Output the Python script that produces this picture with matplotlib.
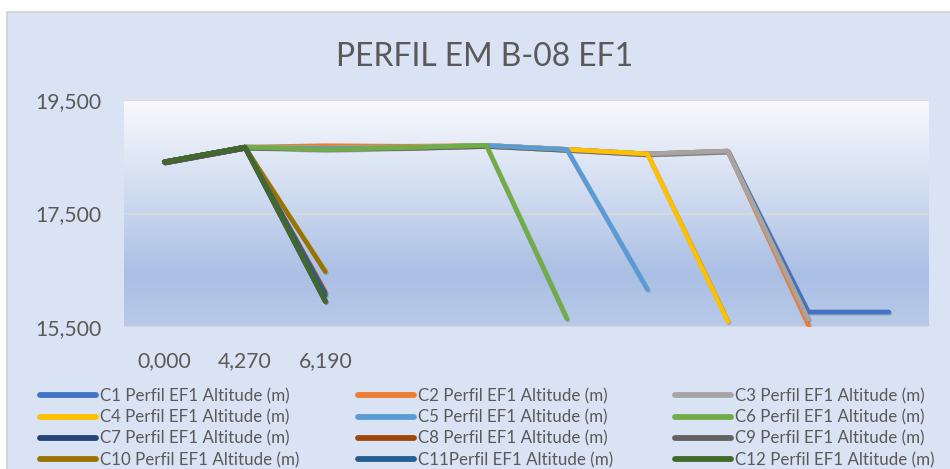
import numpy as np
import matplotlib
matplotlib.use("Agg")
import matplotlib.pyplot as plt
from matplotlib.patches import Rectangle
from matplotlib.lines import Line2D
import matplotlib.patheffects as pe

plt.rcParams['font.family'] = ['Lato', 'DejaVu Sans']

nan = np.nan
categories = ["0,000", "4,270", "6,190", "", "", "", "", "", "", ""]

c1 = [18410, 18670, 18650, 18665, 18700, 18630, 18550, 18600, 15765, 15765]
c2 = [18410, 18670, 18695, 18685, 18700, 18630, 18550, 18600, 15535, nan]
c3 = [18410, 18670, 18650, 18665, 18700, 18630, 18550, 18600, 15636, nan]
c4 = [18410, 18670, 18650, 18665, 18700, 18630, 18550, 15594, nan, nan]
c5 = [18410, 18670, 18650, 18665, 18700, 18630, 16165, nan, nan, nan]
c6 = [18410, 18670, 18625, 18660, 18700, 15645, nan, nan, nan, nan]
c7 = [18410, 18670, 15960, nan, nan, nan, nan, nan, nan, nan]
c8 = [18410, 18670, 16110, nan, nan, nan, nan, nan, nan, nan]
c9 = [18410, 18670, 15950, nan, nan, nan, nan, nan, nan, nan]
c10 = [18410, 18670, 16475, nan, nan, nan, nan, nan, nan, nan]
c11 = [18410, 18670, 16060, nan, nan, nan, nan, nan, nan, nan]
c12 = [18410, 18670, 15946, nan, nan, nan, nan, nan, nan, nan]

series_labels = ["C1 Perfil EF1 Altitude (m)", "C2 Perfil EF1 Altitude (m)",
                 "C3 Perfil EF1 Altitude (m)", "C4 Perfil EF1 Altitude (m)",
                 "C5 Perfil EF1 Altitude (m)", "C6 Perfil EF1 Altitude (m)",
                 "C7 Perfil EF1 Altitude (m)", "C8 Perfil EF1 Altitude (m)",
                 "C9 Perfil EF1 Altitude (m)", "C10 Perfil EF1 Altitude (m)",
                 "C11Perfil EF1 Altitude (m)", "C12 Perfil EF1 Altitude (m)"]
series_values = [c1, c2, c3, c4, c5, c6, c7, c8, c9, c10, c11, c12]
colors = ["#4472C4", "#ED7D31", "#A5A5A5", "#FFC000", "#5B9BD5", "#70AD47",
          "#264478", "#9E480E", "#636363", "#997300", "#255E91", "#43682B"]
yticks = [15500, 17500, 19500]
ytick_labels = ["15,500", "17,500", "19,500"]
title = "PERFIL EM B-08 EF1"

W, H = 950, 469
fig = plt.figure(figsize=(W / 100, H / 100), dpi=100)
fig.patch.set_facecolor("white")
renderer = fig.canvas.get_renderer()


def measure(s, size):
    t = fig.text(0, 0, s, fontsize=size)
    bb = t.get_window_extent(renderer)
    t.remove()
    return bb.width, bb.height


def fit_size(s, target_w):
    w, _ = measure(s, 10)
    return 10 * target_w / w


title_fs = fit_size(title, 295)
tick_fs = fit_size("19,500", 66)
leg_fs = fit_size(series_labels[0], 189)
_, leg_h = measure(series_labels[0], leg_fs)
leg_fs_px = leg_fs * 100 / 72
row_pitch = 21.4
leg_spacing = max(0.0, (row_pitch - leg_h) / leg_fs_px)

# chart area background with light border on top/left
fig.patches.append(Rectangle((7 / W, -0.1), 1.2, (H - 12) / H + 0.1,
                             transform=fig.transFigure, facecolor="#DAE3F3",
                             edgecolor="#D0D0D0", linewidth=1.2, zorder=-10))

left, right, top, bottom = 124, 929, 100, 327
ax = fig.add_axes([left / W, 1 - bottom / H, (right - left) / W, (bottom - top) / H])
ax.set_facecolor("none")
ax.set_zorder(1)

# gradient fill of the plot area
grad_stops = np.array([0.0, 0.35, 0.77, 1.0])
grad_cols = np.array([[0xF8, 0xF9, 0xFD], [0xD6, 0xE0, 0xF2], [0xAA, 0xBF, 0xE4], [0xB9, 0xCA, 0xE8]]) / 255.0
yy = np.linspace(0, 1, 256)
img = np.stack([np.interp(yy, grad_stops, grad_cols[:, k]) for k in range(3)], axis=1)
img = img[:, None, :]
ax.imshow(img, extent=[0, 1, 0, 1], transform=ax.transAxes, aspect="auto",
          origin="upper", zorder=0, interpolation="bilinear")

x = np.arange(len(categories))
for vals, col, lab in zip(series_values, colors, series_labels):
    ax.plot(x, np.array(vals, dtype=float), color=col, lw=3.3, label=lab,
            solid_capstyle="round", solid_joinstyle="round", zorder=3,
            path_effects=[pe.SimpleLineShadow(offset=(0.8, -0.8), shadow_color="#555555", alpha=0.35),
                          pe.Normal()])

ax.set_xlim(-0.5, len(categories) - 0.5)
ax.set_ylim(15500, 19500)
ax.set_yticks(yticks)
ax.set_yticklabels(ytick_labels)
ax.set_xticks(x)
ax.set_xticklabels(categories)
for s in ax.spines.values():
    s.set_visible(False)
ax.grid(axis="y", color="#D9D9D9", lw=1.3, zorder=1)
ax.set_axisbelow(True)
ax.tick_params(axis="both", length=0, labelsize=tick_fs, labelcolor="#595959")
ax.tick_params(axis="y", pad=16)
ax.tick_params(axis="x", pad=17)

fig.text(485 / W, 1 - 57 / H, title, ha="center", va="center",
         fontsize=title_fs, color="#595959")

# legend: three columns, rows read left-to-right
handles = [Line2D([0], [0], color=c, lw=4.2, solid_capstyle="round") for c in colors]
col_x = [40, 358, 675]
leg_top = 396 - leg_h / 2
for ci in range(3):
    idx = [ci + 3 * r for r in range(4)]
    fig.legend([handles[i] for i in idx], [series_labels[i] for i in idx],
               loc="upper left", bbox_to_anchor=(col_x[ci] / W, 1 - leg_top / H),
               frameon=False, borderpad=0, borderaxespad=0,
               handlelength=56 / leg_fs_px, handletextpad=4 / leg_fs_px,
               labelspacing=leg_spacing,
               prop={"size": leg_fs}, labelcolor="#595959")

fig.savefig("out.png", dpi=100)
